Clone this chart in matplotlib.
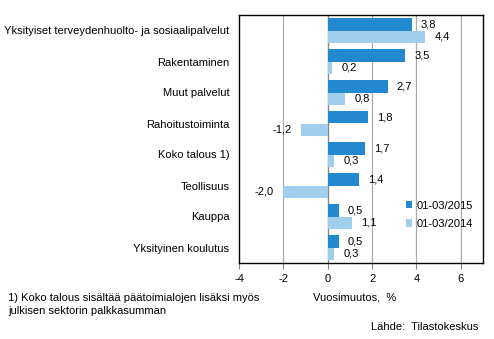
import matplotlib
matplotlib.use("Agg")
import matplotlib.pyplot as plt
import numpy as np

plt.rcParams['font.family'] = ['Liberation Sans', 'DejaVu Sans']

categories = ["Yksityiset terveydenhuolto- ja sosiaalipalvelut", "Rakentaminen",
              "Muut palvelut", "Rahoitustoiminta", "Koko talous 1)", "Teollisuus",
              "Kauppa", "Yksityinen koulutus"]
v2015 = [3.8, 3.5, 2.7, 1.8, 1.7, 1.4, 0.5, 0.5]
v2014 = [4.4, 0.2, 0.8, -1.2, 0.3, -2.0, 1.1, 0.3]
series_names = ["01-03/2015", "01-03/2014"]
xticks = [-4, -2, 0, 2, 4, 6]

c_dark = "#2288D0"
c_light = "#A0CFEE"

fig = plt.figure(figsize=(4.94, 3.39), dpi=100)
ax = fig.add_axes([239/494, 1-263/339, (483-239)/494, (263-15)/339])

y = np.arange(len(categories))
h = 0.4
ax.barh(y - h/2, v2015, height=h, color=c_dark, label=series_names[0], zorder=3)
ax.barh(y + h/2, v2014, height=h, color=c_light, label=series_names[1], zorder=3)

def fmt(v):
    return f"{v:.1f}".replace(".", ",")

for yy, vals in ((y - h/2, v2015), (y + h/2, v2014)):
    for yi, v in zip(yy, vals):
        if v >= 0:
            ax.annotate(fmt(v), (v, yi), xytext=(6.5, 0), textcoords="offset points",
                        ha="left", va="center", fontsize=8)
        else:
            ax.annotate(fmt(v), (v, yi), xytext=(-7, 0), textcoords="offset points",
                        ha="right", va="center", fontsize=8)

ax.set_xlim(-4, 7)
ax.set_ylim(len(categories) - 0.5, -0.5)
ax.set_xticks(xticks)
ax.set_xticklabels([str(t) for t in xticks], fontsize=8)
ax.set_yticks(y)
ax.set_yticklabels(categories, fontsize=8)
ax.tick_params(axis="y", length=0, pad=7)
ax.tick_params(axis="x", length=4, color="#888888", direction="out", pad=4)
for g in xticks:
    if g == 0:
        ax.axvline(0, color="#888888", lw=1, zorder=2)
    elif g != -4:
        ax.axvline(g, color="#AAAAAA", lw=0.9, zorder=1)
for s in ax.spines.values():
    s.set_color("black")
    s.set_linewidth(1)

leg = ax.legend(loc="upper left", bbox_to_anchor=((400-239)/244, 1-(195-15)/248),
                frameon=False, fontsize=8, handlelength=0.6, handleheight=0.6,
                handletextpad=0.4, labelspacing=0.75, borderpad=0)

fig.text(8/494, 1-298/339, "1) Koko talous sisältää päätoimialojen lisäksi myös",
         fontsize=8, va="center", ha="left")
fig.text(8/494, 1-311/339, "julkisen sektorin palkkasumman",
         fontsize=8, va="center", ha="left")
fig.text(313/494, 1-298/339, "Vuosimuutos,  %", fontsize=8, va="center", ha="left")
fig.text(478/494, 1-327/339, "Lähde:  Tilastokeskus", fontsize=8, va="center", ha="right")

fig.savefig("out.png", dpi=100)
